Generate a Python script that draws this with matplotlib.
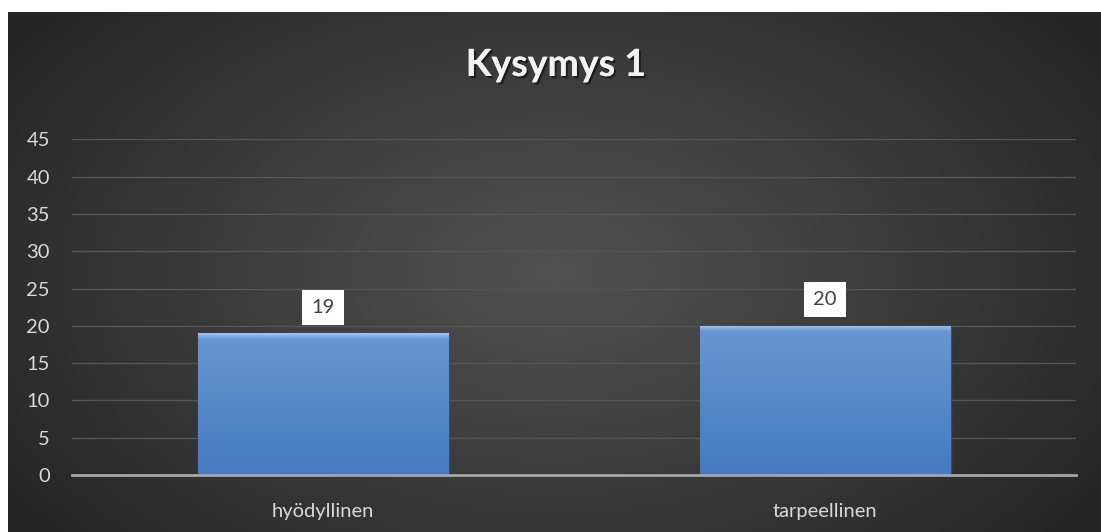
import numpy as np
import matplotlib.pyplot as plt
import matplotlib.patheffects as pe

categories = ["hyödyllinen", "tarpeellinen"]
values = [19, 20]
title = "Kysymys 1"
yticks = [0, 5, 10, 15, 20, 25, 30, 35, 40, 45]

plt.rcParams['font.family'] = ['Lato', 'DejaVu Sans']

W, H = 1101, 532
fig = plt.figure(figsize=(W / 100, H / 100), dpi=100)
fig.patch.set_facecolor("white")

# dark radial background of the chart area
bg = fig.add_axes([8 / W, 0, 1 - 8 / W, 1 - 12 / H])
bg.set_axis_off()
gx, gy = np.meshgrid(np.linspace(-1, 1, 400), np.linspace(-1, 1, 200))
r = np.sqrt((gx / 1.0) ** 2 + (gy / 1.3) ** 2)
shade = 0.32 - 0.17 * np.clip(r, 0, 1.2) / 1.2
bg.imshow(np.dstack([shade] * 3), aspect="auto", extent=[0, 1, 0, 1])
bg.set_xlim(0, 1)
bg.set_ylim(0, 1)

ax = fig.add_axes([72 / W, 57 / H, (1076 - 72) / W, (475 - 139.3) / H])
ax.patch.set_alpha(0)
x = np.arange(len(categories))
bars = ax.bar(x, values, width=0.5, color="#4f81c7", edgecolor="#2a4f85",
              linewidth=1.0, zorder=3)

# vertical gradient inside each bar, lighter bevel at the top
n = 200
t = np.linspace(0, 1, n).reshape(-1, 1, 1)
top = np.array([0.41, 0.59, 0.82])
bot = np.array([0.27, 0.48, 0.76])
blue = top * (1 - t) + bot * t
bevel = np.array([0.62, 0.78, 0.96])
k = 8
for i in range(k):
    w = 1 - i / k
    blue[i] = bevel * w + blue[i] * (1 - w)
for b in bars:
    bx, bw, bh = b.get_x(), b.get_width(), b.get_height()
    im = ax.imshow(blue, extent=[bx, bx + bw, 0, bh], aspect="auto", zorder=3.5,
                   origin="upper", interpolation="bilinear")
    im.set_clip_path(b)

for b, v in zip(bars, values):
    ax.text(b.get_x() + b.get_width() / 2, v + 3.5, str(v), ha="center", va="center",
            fontsize=14.5, color="#404040", zorder=5,
            bbox=dict(boxstyle="square,pad=0.45", fc="white", ec="none"))

ax.set_xlim(-0.5, len(categories) - 0.5)
ax.set_ylim(0, 45)
ax.set_yticks(yticks)
ax.set_xticks(x)
ax.set_xticklabels(categories)
ax.tick_params(axis="both", length=0, colors="#d9d9d9", labelsize=14.5)
ax.tick_params(axis="x", pad=20)
ax.tick_params(axis="y", pad=16)
ax.grid(axis="y", color="#555555", linewidth=1, zorder=0)
for s in ["top", "right", "left"]:
    ax.spines[s].set_visible(False)
ax.spines["bottom"].set_color("#a6a6a6")
ax.spines["bottom"].set_linewidth(2)
ax.spines["bottom"].set_zorder(6)

fig.text(0.505, 1 - 65 / H, title, ha="center", va="center", fontsize=27,
         fontweight="bold", color="#f2f2f2",
         path_effects=[pe.withSimplePatchShadow(offset=(1.5, -1.5), shadow_rgbFace="black", alpha=0.5),
                       pe.Normal()])

fig.savefig("out.png", dpi=100, facecolor=fig.get_facecolor())
